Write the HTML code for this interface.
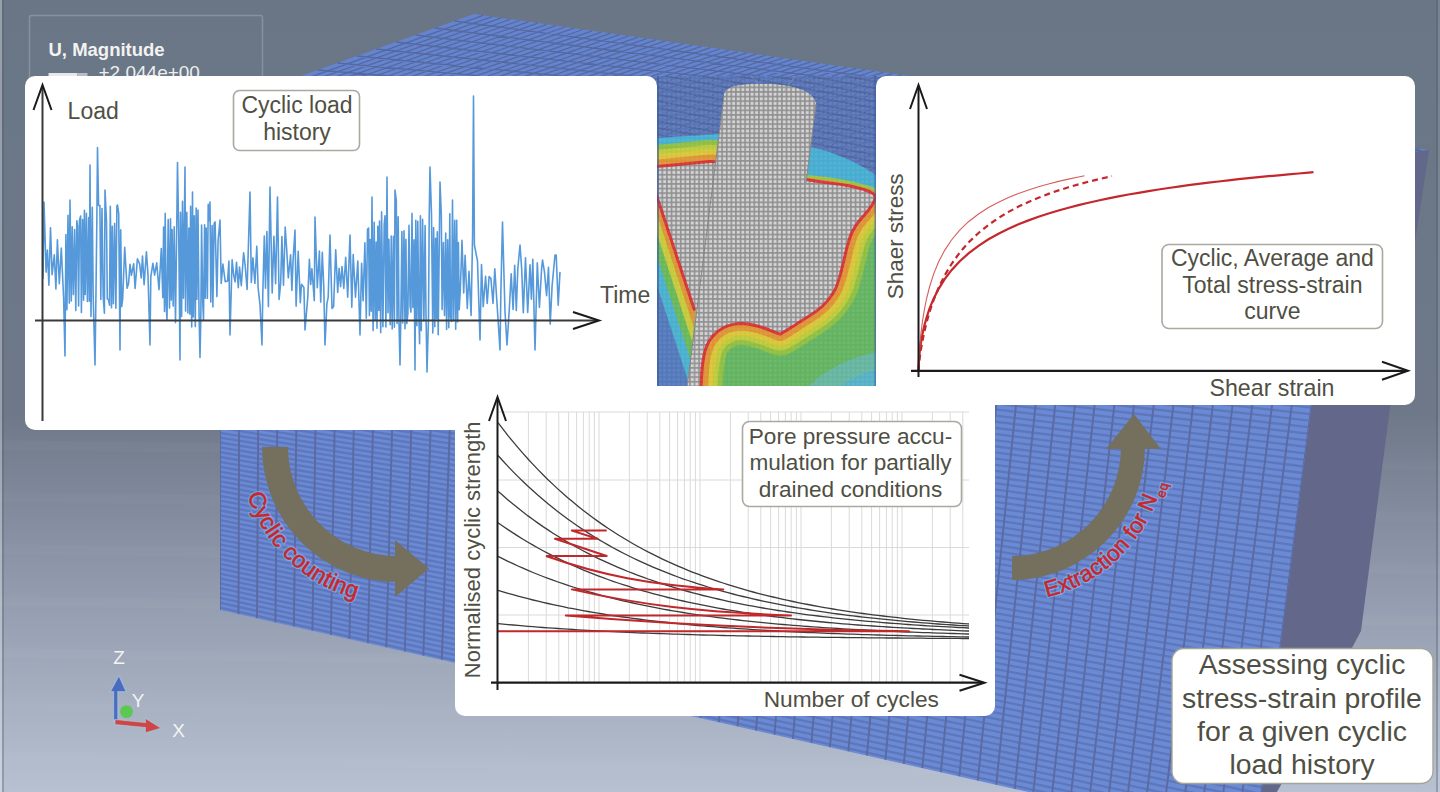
<!DOCTYPE html>
<html><head><meta charset="utf-8"><title>Cyclic stress-strain</title>
<style>html,body{margin:0;padding:0;background:#6e7889;}body{width:1440px;height:792px;overflow:hidden;}svg{display:block;}</style>
</head><body><svg width="1440" height="792" viewBox="0 0 1440 792"><defs>
<linearGradient id="bg" x1="0" y1="0" x2="0" y2="1">
 <stop offset="0" stop-color="#6a7685"/>
 <stop offset="0.12" stop-color="#6a7786"/>
 <stop offset="0.52" stop-color="#6e7889"/>
 <stop offset="0.75" stop-color="#929cae"/>
 <stop offset="1" stop-color="#b7c1d1"/>
</linearGradient>
<pattern id="front" patternUnits="userSpaceOnUse" width="20" height="6" patternTransform="skewX(-7)">
 <rect width="20" height="6" fill="#6988d0"/>
 <rect y="3.5" width="20" height="2.5" fill="#5f78b8"/>
 <rect x="0" width="2" height="6" fill="#56669a"/>
</pattern>
<pattern id="topm" patternUnits="userSpaceOnUse" width="14" height="5" patternTransform="skewX(-60) rotate(8)">
 <rect width="14" height="5" fill="#6584d0"/>
 <rect y="3.6" width="14" height="1.4" fill="#52689e"/>
 <rect width="1.4" height="5" fill="#52689e"/>
</pattern>
<pattern id="gmesh" patternUnits="userSpaceOnUse" width="4.6" height="4.6">
 <rect width="4.6" height="4.6" fill="#9d9d9f"/>
 <rect x="0.7" y="0.7" width="3" height="3" fill="#e2e2e2"/>
</pattern>
<pattern id="fem" patternUnits="userSpaceOnUse" width="4.6" height="4.6">
 <rect width="4.6" height="4.6" fill="#000" fill-opacity="0.18"/>
 <rect x="0.8" y="0.8" width="3" height="3" fill="#fff" fill-opacity="0.15"/>
</pattern>
<clipPath id="feclip"><rect x="657" y="76" width="220" height="310"/></clipPath>
<clipPath id="frontclip"><polygon points="220,105 1343,162 1255,843 220,610"/></clipPath><clipPath id="lcclip"><polygon points="640,192 657,192 695.5,310 687.5,392 640,392"/></clipPath><path id="tp1" d="M240,447 A157,157 0 0 0 397,604"/><path id="tp2" d="M1012,601 A154,154 0 0 0 1166,447"/></defs><rect width="1440" height="792" fill="url(#bg)"/><polygon points="0,440 1440,460 1440,470 0,450" fill="#ffffff" fill-opacity="0.025"/><polygon points="0,492 1440,512 1440,522 0,502" fill="#ffffff" fill-opacity="0.025"/><polygon points="0,544 1440,564 1440,574 0,554" fill="#ffffff" fill-opacity="0.025"/><polygon points="0,596 1440,616 1440,626 0,606" fill="#ffffff" fill-opacity="0.025"/><polygon points="0,648 1440,668 1440,678 0,658" fill="#ffffff" fill-opacity="0.025"/><polygon points="0,700 1440,720 1440,730 0,710" fill="#ffffff" fill-opacity="0.025"/><polygon points="0,752 1440,772 1440,782 0,762" fill="#ffffff" fill-opacity="0.025"/><rect x="0" y="0" width="2" height="792" fill="#ffffff" fill-opacity="0.3"/><rect x="2" y="0" width="2" height="792" fill="#4e5a6a" fill-opacity="0.35"/><rect x="1436" y="0" width="2" height="792" fill="#4e5a6a" fill-opacity="0.35"/><rect x="1438" y="0" width="2" height="792" fill="#ffffff" fill-opacity="0.1"/><rect x="29.5" y="15.5" width="233" height="90" rx="2" fill="none" stroke="#8791a1" stroke-width="1.5"/><text x="48.5" y="55.6" font-family="'Liberation Sans', sans-serif" font-size="18.5" font-weight="bold" fill="#f2f2f2">U, Magnitude</text><text x="98.5" y="78.6" font-family="'Liberation Sans', sans-serif" font-size="19" fill="#eeeeee">+2.044e+00</text><rect x="48.5" y="73" width="29" height="4" fill="#e8e8e8"/><rect x="77.5" y="73" width="10" height="4" fill="#b8bcc4"/><polygon points="220,105 474,14 1429,150 1343,165" fill="#6584d0"/><path d="M454.5,21L1422.4,151.2M434.9,28L1415.8,152.3M415.4,35L1409.2,153.5M395.8,42L1402.5,154.6M376.3,49L1395.9,155.8M356.8,56L1389.3,156.9M337.2,63L1382.7,158.1M317.7,70L1376.1,159.2M298.2,77L1369.5,160.4M278.6,84L1362.8,161.5M259.1,91L1356.2,162.7M239.5,98L1349.6,163.8M220,105L1343,165M483.1,15.3L230.7,105.6M492.2,16.6L241.4,106.1M501.3,17.9L252.1,106.7M510.4,19.2L262.8,107.3M519.5,20.5L273.5,107.9M528.6,21.8L284.2,108.4M537.7,23.1L294.9,109M546.8,24.4L305.6,109.6M555.9,25.7L316.3,110.1M565,27L327,110.7M574,28.2L337.6,111.3M583.1,29.5L348.3,111.9M592.2,30.8L359,112.4M601.3,32.1L369.7,113M610.4,33.4L380.4,113.6M619.5,34.7L391.1,114.1M628.6,36L401.8,114.7M637.7,37.3L412.5,115.3M646.8,38.6L423.2,115.9M655.9,39.9L433.9,116.4M665,41.2L444.6,117M674.1,42.5L455.3,117.6M683.2,43.8L466,118.1M692.3,45.1L476.7,118.7M701.4,46.4L487.4,119.3M710.5,47.7L498.1,119.9M719.6,49L508.8,120.4M728.7,50.3L519.5,121M737.8,51.6L530.2,121.6M746.9,52.9L540.9,122.1M756,54.2L551.6,122.7M765,55.4L562.2,123.3M774.1,56.7L572.9,123.9M783.2,58L583.6,124.4M792.3,59.3L594.3,125M801.4,60.6L605,125.6M810.5,61.9L615.7,126.1M819.6,63.2L626.4,126.7M828.7,64.5L637.1,127.3M837.8,65.8L647.8,127.9M846.9,67.1L658.5,128.4M856,68.4L669.2,129M865.1,69.7L679.9,129.6M874.2,71L690.6,130.1M883.3,72.3L701.3,130.7M892.4,73.6L712,131.3M901.5,74.9L722.7,131.9M910.6,76.2L733.4,132.4M919.7,77.5L744.1,133M928.8,78.8L754.8,133.6M937.9,80.1L765.5,134.1M947,81.4L776.2,134.7M956,82.6L786.8,135.3M965.1,83.9L797.5,135.9M974.2,85.2L808.2,136.4M983.3,86.5L818.9,137M992.4,87.8L829.6,137.6M1001.5,89.1L840.3,138.1M1010.6,90.4L851,138.7M1019.7,91.7L861.7,139.3M1028.8,93L872.4,139.9M1037.9,94.3L883.1,140.4M1047,95.6L893.8,141M1056.1,96.9L904.5,141.6M1065.2,98.2L915.2,142.1M1074.3,99.5L925.9,142.7M1083.4,100.8L936.6,143.3M1092.5,102.1L947.3,143.9M1101.6,103.4L958,144.4M1110.7,104.7L968.7,145M1119.8,106L979.4,145.6M1128.9,107.3L990.1,146.1M1138,108.6L1000.8,146.7M1147,109.8L1011.4,147.3M1156.1,111.1L1022.1,147.9M1165.2,112.4L1032.8,148.4M1174.3,113.7L1043.5,149M1183.4,115L1054.2,149.6M1192.5,116.3L1064.9,150.1M1201.6,117.6L1075.6,150.7M1210.7,118.9L1086.3,151.3M1219.8,120.2L1097,151.9M1228.9,121.5L1107.7,152.4M1238,122.8L1118.4,153M1247.1,124.1L1129.1,153.6M1256.2,125.4L1139.8,154.1M1265.3,126.7L1150.5,154.7M1274.4,128L1161.2,155.3M1283.5,129.3L1171.9,155.9M1292.6,130.6L1182.6,156.4M1301.7,131.9L1193.3,157M1310.8,133.2L1204,157.6M1319.9,134.5L1214.7,158.1M1329,135.8L1225.4,158.7M1338,137L1236,159.3M1347.1,138.3L1246.7,159.9M1356.2,139.6L1257.4,160.4M1365.3,140.9L1268.1,161M1374.4,142.2L1278.8,161.6M1383.5,143.5L1289.5,162.1M1392.6,144.8L1300.2,162.7M1401.7,146.1L1310.9,163.3M1410.8,147.4L1321.6,163.9M1419.9,148.7L1332.3,164.4" stroke="#55699f" stroke-width="1.3" fill="none"/><polygon points="1343,160 1429,150 1390,407 1361,631 1353,646 1281,785 1272,800 1255,800" fill="#63678a"/><polygon points="220,105 1343,162 1255,843 220,610" fill="#6b8ad4"/><g clip-path="url(#frontclip)"><path d="M220,107.4L1342.6,165.3M220,112.3L1341.7,171.8M220,117.1L1340.9,178.4M220,122L1340,184.9M220,126.9L1339.2,191.5M220,131.7L1338.3,198M220,136.6L1337.5,204.6M220,141.4L1336.7,211.1M220,146.3L1335.8,217.7M220,151.1L1335,224.2M220,156L1334.1,230.8M220,160.8L1333.3,237.3M220,165.7L1332.4,243.9M220,170.6L1331.6,250.4M220,175.4L1330.7,256.9M220,180.3L1329.9,263.5M220,185.1L1329,270M220,190L1328.2,276.6M220,194.8L1327.3,283.1M220,199.7L1326.5,289.7M220,204.5L1325.7,296.2M220,209.4L1324.8,302.8M220,214.3L1324,309.3M220,219.1L1323.1,315.9M220,224L1322.3,322.4M220,228.8L1321.4,329M220,233.7L1320.6,335.5M220,238.5L1319.7,342.1M220,243.4L1318.9,348.6M220,248.2L1318,355.2M220,253.1L1317.2,361.7M220,258L1316.3,368.3M220,262.8L1315.5,374.8M220,267.7L1314.7,381.4M220,272.5L1313.8,387.9M220,277.4L1313,394.5M220,282.2L1312.1,401M220,287.1L1311.3,407.6M220,291.9L1310.4,414.1M220,296.8L1309.6,420.6M220,301.7L1308.7,427.2M220,306.5L1307.9,433.7M220,311.4L1307,440.3M220,316.2L1306.2,446.8M220,321.1L1305.3,453.4M220,325.9L1304.5,459.9M220,330.8L1303.7,466.5M220,335.6L1302.8,473M220,340.5L1302,479.6M220,345.4L1301.1,486.1M220,350.2L1300.3,492.7M220,355.1L1299.4,499.2M220,359.9L1298.6,505.8M220,364.8L1297.7,512.3M220,369.6L1296.9,518.9M220,374.5L1296,525.4M220,379.4L1295.2,532M220,384.2L1294.3,538.5M220,389.1L1293.5,545.1M220,393.9L1292.7,551.6M220,398.8L1291.8,558.2M220,403.6L1291,564.7M220,408.5L1290.1,571.3M220,413.3L1289.3,577.8M220,418.2L1288.4,584.4M220,423.1L1287.6,590.9M220,427.9L1286.7,597.4M220,432.8L1285.9,604M220,437.6L1285,610.5M220,442.5L1284.2,617.1M220,447.3L1283.3,623.6M220,452.2L1282.5,630.2M220,457L1281.7,636.7M220,461.9L1280.8,643.3M220,466.8L1280,649.8M220,471.6L1279.1,656.4M220,476.5L1278.3,662.9M220,481.3L1277.4,669.5M220,486.2L1276.6,676M220,491L1275.7,682.6M220,495.9L1274.9,689.1M220,500.7L1274,695.7M220,505.6L1273.2,702.2M220,510.5L1272.3,708.8M220,515.3L1271.5,715.3M220,520.2L1270.7,721.9M220,525L1269.8,728.4M220,529.9L1269,735M220,534.7L1268.1,741.5M220,539.6L1267.3,748.1M220,544.4L1266.4,754.6M220,549.3L1265.6,761.1M220,554.2L1264.7,767.7M220,559L1263.9,774.2M220,563.9L1263,780.8M220,568.7L1262.2,787.3M220,573.6L1261.3,793.9M220,578.4L1260.5,800.4M220,583.3L1259.7,807M220,588.1L1258.8,813.5M220,593L1258,820.1M220,597.9L1257.1,826.6M220,602.7L1256.3,833.2M220,607.6L1255.4,839.7M220,612.4L1254.6,846.3" stroke="#5e77bc" stroke-width="2.3" fill="none"/><path d="M220,105L220,610M240.1,106L238.5,614.2M260.1,107L257,618.3M280.2,108.1L275.4,622.5M300.2,109.1L293.9,626.6M320.3,110.1L312.4,630.8M340.3,111.1L330.9,635M360.4,112.1L349.4,639.1M380.4,113.1L367.9,643.3M400.5,114.2L386.3,647.4M420.5,115.2L404.8,651.6M440.6,116.2L423.3,655.8M460.6,117.2L441.8,659.9M480.7,118.2L460.3,664.1M500.8,119.2L478.8,668.2M520.8,120.3L497.2,672.4M540.9,121.3L515.7,676.6M560.9,122.3L534.2,680.7M581,123.3L552.7,684.9M601,124.3L571.2,689.1M621.1,125.4L589.6,693.2M641.1,126.4L608.1,697.4M661.2,127.4L626.6,701.5M681.2,128.4L645.1,705.7M701.3,129.4L663.6,709.9M721.3,130.4L682.1,714M741.4,131.5L700.5,718.2M761.4,132.5L719,722.3M781.5,133.5L737.5,726.5M801.6,134.5L756,730.7M821.6,135.5L774.5,734.8M841.7,136.6L792.9,739M861.7,137.6L811.4,743.1M881.8,138.6L829.9,747.3M901.8,139.6L848.4,751.5M921.9,140.6L866.9,755.6M941.9,141.6L885.4,759.8M962,142.7L903.8,763.9M982,143.7L922.3,768.1M1002.1,144.7L940.8,772.3M1022.1,145.7L959.3,776.4M1042.2,146.7L977.8,780.6M1062.2,147.8L996.2,784.8M1082.3,148.8L1014.7,788.9M1102.4,149.8L1033.2,793.1M1122.4,150.8L1051.7,797.2M1142.5,151.8L1070.2,801.4M1162.5,152.8L1088.7,805.6M1182.6,153.9L1107.1,809.7M1202.6,154.9L1125.6,813.9M1222.7,155.9L1144.1,818M1242.7,156.9L1162.6,822.2M1262.8,157.9L1181.1,826.4M1282.8,158.9L1199.6,830.5M1302.9,160L1218,834.7M1322.9,161L1236.5,838.8M1343,162L1255,843" stroke="#5b6aa2" stroke-width="1.9" fill="none"/></g><g clip-path="url(#feclip)"><rect x="657" y="70" width="220" height="320" fill="#5a79c2"/><rect x="657" y="70" width="220" height="320" fill="url(#topm)" opacity="0.6"/><path d="M657,138 L720,134 L790,140 L877,150 L877,390 L657,390 Z" fill="#4cc0e4"/><path d="M800,150 C830,150 860,160 877,170 L877,200 L800,185 Z" fill="#52bde6" opacity="0.9"/><path d="M657,146 L720,142 L790,160 L877,182 L877,390 L657,390 Z" fill="#6cc46a"/><path d="M805,390 C825,368 855,356 877,352 L877,390 Z" fill="#6ec6b0"/><path d="M835,390 C850,378 865,372 877,370 L877,390 Z" fill="#5cc0d8"/><path d="M696,310 L657,192 L657,168 L710,163 L760,166 L806,181 C820,184 840,185 852,188 C864,191 872,193 874,197 C873,203 866,211 858,220 C852,228 849,234 847,242 C844,252 843,258 841,266 C838,278 836,286 832,292 C826,302 818,309 808,315 C798,321 790,327 780,332.5 C772,330 760,323 742,322 C728,322 716,328 708,340 C701,352 700,370 699.5,392" fill="none" stroke="#9cd048" stroke-width="46" stroke-linejoin="round"/><path d="M696,310 L657,192 L657,168 L710,163 L760,166 L806,181 C820,184 840,185 852,188 C864,191 872,193 874,197 C873,203 866,211 858,220 C852,228 849,234 847,242 C844,252 843,258 841,266 C838,278 836,286 832,292 C826,302 818,309 808,315 C798,321 790,327 780,332.5 C772,330 760,323 742,322 C728,322 716,328 708,340 C701,352 700,370 699.5,392" fill="none" stroke="#cfdc40" stroke-width="36" stroke-linejoin="round"/><path d="M696,310 L657,192 L657,168 L710,163 L760,166 L806,181 C820,184 840,185 852,188 C864,191 872,193 874,197 C873,203 866,211 858,220 C852,228 849,234 847,242 C844,252 843,258 841,266 C838,278 836,286 832,292 C826,302 818,309 808,315 C798,321 790,327 780,332.5 C772,330 760,323 742,322 C728,322 716,328 708,340 C701,352 700,370 699.5,392" fill="none" stroke="#ecd83c" stroke-width="27" stroke-linejoin="round"/><path d="M696,310 L657,192 L657,168 L710,163 L760,166 L806,181 C820,184 840,185 852,188 C864,191 872,193 874,197 C873,203 866,211 858,220 C852,228 849,234 847,242 C844,252 843,258 841,266 C838,278 836,286 832,292 C826,302 818,309 808,315 C798,321 790,327 780,332.5 C772,330 760,323 742,322 C728,322 716,328 708,340 C701,352 700,370 699.5,392" fill="none" stroke="#f2a03a" stroke-width="17" stroke-linejoin="round"/><path d="M806,146 C830,150 860,163 877,176 L877,192 C866,187 850,183 830,180 L806,177 Z" fill="#4cbde4"/><path d="M806,100 L877,100 L877,176 C860,163 830,150 806,146 Z" fill="#5a79c2"/><path d="M806,100 L877,100 L877,176 C860,163 830,150 806,146 Z" fill="url(#topm)" opacity="0.6"/><path d="M804,176 L830,179 C850,182 866,186 877,190" fill="none" stroke="#a8d448" stroke-width="3"/><g clip-path="url(#lcclip)"><rect x="640" y="190" width="60" height="210" fill="#5a84cc"/><line x1="638.4" y1="135" x2="732.7" y2="424.1" stroke="#4fc0e0" stroke-width="58"/><line x1="638.4" y1="135" x2="732.7" y2="424.1" stroke="#72c860" stroke-width="40"/><line x1="638.4" y1="135" x2="732.7" y2="424.1" stroke="#d8dc40" stroke-width="26"/><line x1="638.4" y1="135" x2="732.7" y2="424.1" stroke="#f0a03a" stroke-width="14"/></g><path d="M696,310 L657,192 L657,168 L710,163 L760,166 L806,181 C820,184 840,185 852,188 C864,191 872,193 874,197 C873,203 866,211 858,220 C852,228 849,234 847,242 C844,252 843,258 841,266 C838,278 836,286 832,292 C826,302 818,309 808,315 C798,321 790,327 780,332.5 C772,330 760,323 742,322 C728,322 716,328 708,340 C701,352 700,370 699.5,392 L690,392 Z" fill="#c9c9c9"/><path d="M696,310 L657,192 L657,168 L710,163 L760,166 L806,181 C820,184 840,185 852,188 C864,191 872,193 874,197 C873,203 866,211 858,220 C852,228 849,234 847,242 C844,252 843,258 841,266 C838,278 836,286 832,292 C826,302 818,309 808,315 C798,321 790,327 780,332.5 C772,330 760,323 742,322 C728,322 716,328 708,340 C701,352 700,370 699.5,392" fill="none" stroke="#e8383a" stroke-width="6" stroke-linejoin="round"/><path d="M696,310 L657,192 L657,168 L710,163 L760,166 L806,181 C820,184 840,185 852,188 C864,191 872,193 874,197 C873,203 866,211 858,220 C852,228 849,234 847,242 C844,252 843,258 841,266 C838,278 836,286 832,292 C826,302 818,309 808,315 C798,321 790,327 780,332.5 C772,330 760,323 742,322 C728,322 716,328 708,340 C701,352 700,370 699.5,392 L690,392 Z" fill="url(#gmesh)"/><path d="M724,96 C724,88 735,84 760,84 C790,84 814,90 816,104 L806,183 L760,250 L720,300 L696,318 L694,392 L686.5,392 Z" fill="#c9c9c9"/><path d="M724,96 C724,88 735,84 760,84 C790,84 814,90 816,104 L806,183 L760,250 L720,300 L696,318 L694,392 L686.5,392 Z" fill="url(#gmesh)"/><path d="M724,96 L686.5,392" stroke="#8e8e8e" stroke-width="1" fill="none"/><path d="M816,104 L806,183" stroke="#8e8e8e" stroke-width="1" fill="none"/><path d="M745,70 L770,96 M800,70 L780,96" stroke="#9aa4b8" stroke-width="1" fill="none" opacity="0.7"/><rect x="657" y="70" width="220" height="320" fill="url(#fem)" opacity="0.5"/><rect x="657" y="70" width="2" height="320" fill="#3e5a9a" opacity="0.6"/><rect x="874.5" y="70" width="2" height="320" fill="#3e5a9a" opacity="0.6"/></g><rect x="25" y="76" width="632" height="354" rx="10" fill="#ffffff"/><rect x="876" y="76" width="539" height="329" rx="10" fill="#ffffff"/><rect x="455" y="386" width="540" height="330" rx="10" fill="#ffffff"/><rect x="455" y="380" width="40" height="50" fill="#ffffff"/><polyline points="43,278.7 44,202 46.1,272.1 47.4,250 48.9,285.3 50.5,227.7 52.1,274.6 54.3,254.8 55.9,288.9 57.4,239.7 59.3,283.7 61.3,248.1 63.6,297.2 65,356 65.9,234.6 66.9,309.7 68,215.3 69.3,303.1 70,200 71.3,301 72.2,226.8 73.4,294.6 74.6,229.5 75.8,310.6 76.8,220.7 77.6,226.2 78.6,305.9 79.5,220.3 80.6,216.1 81.4,312.6 82.6,219.5 83.6,300.3 84.4,210.2 85.2,294.4 86.4,213.4 87.4,301.4 88.7,217.6 89.4,301.2 90,165 91,316.4 92.3,207.2 93.2,297.2 95,365 95.7,313.7 96.8,225.3 97.5,147.5 98.6,205.4 99.9,205.6 100.8,299.4 102,208.6 103.2,296.8 104.4,313.3 105,190 106.5,221.1 107.3,298.8 108.5,299.6 109.5,305.2 110.3,206.3 111.5,307.7 112.3,226.4 113.4,303.7 114.6,223.5 115.9,308.2 116.9,206.1 117.5,205 118.7,213.3 120,350 120.7,229.9 121.7,306.6 122.7,299 124.7,247.3 127.1,288.2 128.6,283.3 130,264.2 131.4,275.4 133.7,263.7 135.1,288.5 137.4,258.9 139.6,263.8 141.2,278 142.5,256 144.1,284.8 146.4,251.7 148,274.9 150,345 150.8,276.8 152.9,263.4 154.6,275.1 156.7,262.8 159,289.6 161.3,248.5 162.8,297.6 163.6,227.1 164.5,311.4 165.2,213.4 166.2,304.3 167,320.1 168.2,219.5 169.5,308.1 170.5,218.8 171.3,300.1 172.1,229.6 173.2,306.1 174.2,226.7 175.5,322.6 176.8,221.3 177.5,162.5 178.7,232.1 180,360 180.5,212.4 181.6,316.4 182.5,201.3 183.5,298.3 185,167 185.6,311.1 186.8,212.3 187.9,312.9 188.9,228 189.9,314.2 190.6,206.3 191.7,326.9 192.5,192 193.3,317 194.3,215.7 195.3,326.6 196.2,208.1 196.9,299.2 198,210.1 199,310.8 200,357.5 200.8,319.4 201.6,225.1 202.7,302.3 203.5,319.7 204.6,224.7 205.3,298.3 206.2,228.1 207.4,298.5 208.2,204.4 209,220.6 210,202 210.8,302.1 212.1,225.5 212.9,307 214.1,223.7 215.1,221.9 216.9,296.6 218.1,240.7 220,220 221.2,283.5 222.9,264 225.2,281.6 227.6,281 228.9,261.1 230,335 232.1,259.9 233.7,275.1 235.1,281.9 236.5,262.4 238.3,287.7 239.5,267.1 241.3,285.7 243.6,252.7 245.1,265 247.1,289.5 250,192 251.3,282.4 252.9,257.9 254.9,283.5 256.8,246.2 258.1,287.5 260,304.8 262,345 262.8,293.5 264.3,236 265.5,288.3 266.9,231.6 268.4,306.6 270,187 272.2,292.9 273.9,236.2 275.6,283.8 277.5,197 279.1,299.5 280.7,282.7 281.9,236.5 283.5,285.3 285.2,227.1 286.6,248 288.3,278 290.6,254.8 291.9,290.4 293.1,259.9 295,230 296.1,306.1 298.2,251.2 300.3,302.7 301.5,284.3 303.9,287.5 305,330 307.8,297.1 309.4,259.2 310.7,284.4 311.9,268.8 314.3,300.6 315,217 317.3,287.6 319.4,251 320.7,302.1 322.3,252.2 323.8,287.9 325,345 326.9,303.8 328.2,297.2 330,235 332,308.5 333.6,306.5 335.7,249.7 337.7,292.4 339.1,268.2 340.6,286.8 342,266.5 343.8,288.4 345.7,257.4 347.7,297.3 350,235 351.8,307.2 353.2,254.5 355.5,297.3 357.8,261.1 360,335 361.6,263.2 363.1,300.7 364.9,242.8 366.3,318.3 367.5,229.2 368.6,228 369.4,315.6 370.2,239.6 371.2,311.2 372,197 373.1,330.6 374.2,222.3 375.2,320.3 376.2,242 377,328.3 377.8,226.2 378.8,310.4 379.5,221 380.7,332.7 381.6,211.9 382.9,326.8 384.2,224.5 385,215.8 385.9,327 387,177 388,312.7 388.9,239.4 390.2,324.7 391.3,236.1 392.2,329 393.5,236.3 394.4,327.2 395,190 396.3,200.5 397.1,323.4 398.2,216.8 399,322.8 400,365 401,305.6 401.9,231.5 402.7,322.9 404,230.7 405,328.8 405.9,239.3 406.8,323.6 407.9,313.3 409,225.4 410.1,306.2 410.9,312.1 412,213.4 412.9,307.6 414,239.9 415,370 415.8,220.3 416.9,325.7 417.8,221.3 418.8,314.8 419.6,343.7 420.4,215.9 421.3,330.6 422.6,219.4 423.9,321 425.1,225.6 426,314.2 427,372 428.5,318.3 429.2,218.2 430,167 431.5,214.8 432.8,333 433.6,227.5 434.8,326.7 435.6,238.3 436.5,318.6 437.3,231.9 438.2,334.8 439.3,241.3 440,182 441.3,214.4 442.1,309.6 443.4,242.6 444.5,315.5 445.7,233.1 446.6,329.4 447.7,239.7 448.8,327.8 449.8,213.8 450.5,316.5 451.5,321.4 452.5,200 453.5,320.6 454.7,220.2 455.7,329.2 456.7,220.3 457.6,322 458.4,242.6 459.2,309.8 460.3,289.9 462,240.4 463.7,293 465.1,255.3 467.3,308.5 469,271.2 471.1,315.5 472.6,235 473.5,96 474.4,245 477.5,261 480,340 481.5,264.6 483.2,306.8 485.6,276.3 487.2,303.5 489.1,276.6 490.9,278.3 493,303.4 494.8,268.9 496.8,300.5 500,350 500.9,290.8 502.5,222 505,311.6 507,345 509.3,309.1 511.2,273.9 513.1,309.5 514.7,265.4 516.3,310.4 517.8,268.9 520,245 521.7,269.3 523.3,312.8 525.5,257.9 527.7,312.4 530,264.7 531.4,299.3 532.8,259.2 535,350 537.3,262.7 539.4,307.4 541.6,269.2 542.5,260 544.4,271.3 546.6,295.8 548.5,267.4 550.2,324.1 552.1,285.9 555,255 556.2,255.1 558.2,305.3 560,271.9" fill="none" stroke="#5599db" stroke-width="1.6" stroke-linejoin="round"/><line x1="42.5" y1="86" x2="42.5" y2="421" stroke="#3a3a3a" stroke-width="2"/><polyline points="33.5,110 42.5,85 51.5,110" fill="none" stroke="#1a1a1a" stroke-width="2"/><line x1="35" y1="320.5" x2="598" y2="320.5" stroke="#3a3a3a" stroke-width="2.2"/><polyline points="573,312 599,320.5 573,329" fill="none" stroke="#1a1a1a" stroke-width="2"/><text x="67.6" y="119" font-family="'Liberation Sans', sans-serif" font-size="23" fill="#4f4f44">Load</text><text x="600" y="303.4" font-family="'Liberation Sans', sans-serif" font-size="23" fill="#4f4f44">Time</text><rect x="233.5" y="90.5" width="126" height="60" rx="6" fill="#fff" stroke="#a9a99f" stroke-width="1.6"/><text font-family="'Liberation Sans', sans-serif" font-size="23" fill="#4f4f44" text-anchor="middle"><tspan x="297" y="112.7">Cyclic load</tspan><tspan x="297" y="139.5">history</tspan></text><line x1="528.4" y1="412" x2="528.4" y2="682" stroke="#dadada" stroke-width="1"/><line x1="546.2" y1="412" x2="546.2" y2="682" stroke="#dadada" stroke-width="1"/><line x1="558.8" y1="412" x2="558.8" y2="682" stroke="#dadada" stroke-width="1"/><line x1="568.6" y1="412" x2="568.6" y2="682" stroke="#dadada" stroke-width="1"/><line x1="576.6" y1="412" x2="576.6" y2="682" stroke="#dadada" stroke-width="1"/><line x1="583.4" y1="412" x2="583.4" y2="682" stroke="#dadada" stroke-width="1"/><line x1="589.2" y1="412" x2="589.2" y2="682" stroke="#dadada" stroke-width="1"/><line x1="594.4" y1="412" x2="594.4" y2="682" stroke="#dadada" stroke-width="1"/><line x1="599" y1="412" x2="599" y2="682" stroke="#dadada" stroke-width="1"/><line x1="629.4" y1="412" x2="629.4" y2="682" stroke="#dadada" stroke-width="1"/><line x1="647.2" y1="412" x2="647.2" y2="682" stroke="#dadada" stroke-width="1"/><line x1="659.8" y1="412" x2="659.8" y2="682" stroke="#dadada" stroke-width="1"/><line x1="669.6" y1="412" x2="669.6" y2="682" stroke="#dadada" stroke-width="1"/><line x1="677.6" y1="412" x2="677.6" y2="682" stroke="#dadada" stroke-width="1"/><line x1="684.4" y1="412" x2="684.4" y2="682" stroke="#dadada" stroke-width="1"/><line x1="690.2" y1="412" x2="690.2" y2="682" stroke="#dadada" stroke-width="1"/><line x1="695.4" y1="412" x2="695.4" y2="682" stroke="#dadada" stroke-width="1"/><line x1="700" y1="412" x2="700" y2="682" stroke="#dadada" stroke-width="1"/><line x1="730.4" y1="412" x2="730.4" y2="682" stroke="#dadada" stroke-width="1"/><line x1="748.2" y1="412" x2="748.2" y2="682" stroke="#dadada" stroke-width="1"/><line x1="760.8" y1="412" x2="760.8" y2="682" stroke="#dadada" stroke-width="1"/><line x1="770.6" y1="412" x2="770.6" y2="682" stroke="#dadada" stroke-width="1"/><line x1="778.6" y1="412" x2="778.6" y2="682" stroke="#dadada" stroke-width="1"/><line x1="785.4" y1="412" x2="785.4" y2="682" stroke="#dadada" stroke-width="1"/><line x1="791.2" y1="412" x2="791.2" y2="682" stroke="#dadada" stroke-width="1"/><line x1="796.4" y1="412" x2="796.4" y2="682" stroke="#dadada" stroke-width="1"/><line x1="801" y1="412" x2="801" y2="682" stroke="#dadada" stroke-width="1"/><line x1="831.4" y1="412" x2="831.4" y2="682" stroke="#dadada" stroke-width="1"/><line x1="849.2" y1="412" x2="849.2" y2="682" stroke="#dadada" stroke-width="1"/><line x1="861.8" y1="412" x2="861.8" y2="682" stroke="#dadada" stroke-width="1"/><line x1="871.6" y1="412" x2="871.6" y2="682" stroke="#dadada" stroke-width="1"/><line x1="879.6" y1="412" x2="879.6" y2="682" stroke="#dadada" stroke-width="1"/><line x1="886.4" y1="412" x2="886.4" y2="682" stroke="#dadada" stroke-width="1"/><line x1="892.2" y1="412" x2="892.2" y2="682" stroke="#dadada" stroke-width="1"/><line x1="897.4" y1="412" x2="897.4" y2="682" stroke="#dadada" stroke-width="1"/><line x1="902" y1="412" x2="902" y2="682" stroke="#dadada" stroke-width="1"/><line x1="932.4" y1="412" x2="932.4" y2="682" stroke="#dadada" stroke-width="1"/><line x1="950.2" y1="412" x2="950.2" y2="682" stroke="#dadada" stroke-width="1"/><line x1="962.8" y1="412" x2="962.8" y2="682" stroke="#dadada" stroke-width="1"/><line x1="498" y1="412" x2="969" y2="412" stroke="#dadada" stroke-width="1"/><line x1="498" y1="480" x2="969" y2="480" stroke="#dadada" stroke-width="1"/><line x1="498" y1="547.5" x2="969" y2="547.5" stroke="#dadada" stroke-width="1"/><line x1="498" y1="615" x2="969" y2="615" stroke="#dadada" stroke-width="1"/><polyline points="498,422.7 503,429.2 508,435.6 513,441.7 518,447.6 523,453.4 528,459 533,464.4 538,469.6 543,474.7 548,479.7 553,484.4 558,489.1 563,493.6 568,497.9 573,502.1 578,506.2 583,510.2 588,514 593,517.8 598,521.4 603,524.9 608,528.3 613,531.5 618,534.7 623,537.8 628,540.8 633,543.7 638,546.5 643,549.2 648,551.9 653,554.4 658,556.9 663,559.3 668,561.7 673,563.9 678,566.1 683,568.2 688,570.3 693,572.3 698,574.2 703,576.1 708,577.9 713,579.7 718,581.4 723,583 728,584.6 733,586.2 738,587.7 743,589.2 748,590.6 753,592 758,593.3 763,594.6 768,595.8 773,597 778,598.2 783,599.3 788,600.4 793,601.5 798,602.6 803,603.6 808,604.5 813,605.5 818,606.4 823,607.3 828,608.1 833,609 838,609.8 843,610.6 848,611.3 853,612.1 858,612.8 863,613.5 868,614.1 873,614.8 878,615.4 883,616 888,616.6 893,617.2 898,617.7 903,618.3 908,618.8 913,619.3 918,619.8 923,620.3 928,620.7 933,621.2 938,621.6 943,622 948,622.4 953,622.8 958,623.2 963,623.6 968,623.9 969,624" fill="none" stroke="#3c3c3c" stroke-width="1.3"/><polyline points="498,455.5 503,461 508,466.4 513,471.6 518,476.6 523,481.5 528,486.2 533,490.8 538,495.3 543,499.6 548,503.8 553,507.8 558,511.7 563,515.5 568,519.2 573,522.8 578,526.2 583,529.6 588,532.9 593,536 598,539.1 603,542 608,544.9 613,547.7 618,550.4 623,553 628,555.5 633,558 638,560.4 643,562.7 648,564.9 653,567.1 658,569.2 663,571.2 668,573.2 673,575.1 678,577 683,578.8 688,580.5 693,582.2 698,583.8 703,585.4 708,587 713,588.5 718,589.9 723,591.3 728,592.7 733,594 738,595.3 743,596.5 748,597.7 753,598.9 758,600 763,601.1 768,602.1 773,603.2 778,604.2 783,605.1 788,606.1 793,607 798,607.8 803,608.7 808,609.5 813,610.3 818,611.1 823,611.8 828,612.6 833,613.3 838,614 843,614.6 848,615.3 853,615.9 858,616.5 863,617.1 868,617.6 873,618.2 878,618.7 883,619.2 888,619.7 893,620.2 898,620.7 903,621.1 908,621.6 913,622 918,622.4 923,622.8 928,623.2 933,623.6 938,624 943,624.3 948,624.7 953,625 958,625.3 963,625.6 968,625.9 969,626" fill="none" stroke="#3c3c3c" stroke-width="1.3"/><polyline points="498,491.2 503,495.6 508,499.9 513,504.1 518,508.1 523,512.1 528,515.9 533,519.5 538,523.1 543,526.6 548,529.9 553,533.2 558,536.3 563,539.4 568,542.3 573,545.2 578,548 583,550.7 588,553.3 593,555.8 598,558.3 603,560.6 608,562.9 613,565.2 618,567.3 623,569.4 628,571.5 633,573.4 638,575.3 643,577.2 648,579 653,580.7 658,582.4 663,584.1 668,585.6 673,587.2 678,588.7 683,590.1 688,591.5 693,592.9 698,594.2 703,595.5 708,596.7 713,597.9 718,599 723,600.2 728,601.3 733,602.3 738,603.3 743,604.3 748,605.3 753,606.2 758,607.1 763,608 768,608.9 773,609.7 778,610.5 783,611.2 788,612 793,612.7 798,613.4 803,614.1 808,614.8 813,615.4 818,616 823,616.6 828,617.2 833,617.8 838,618.3 843,618.9 848,619.4 853,619.9 858,620.4 863,620.8 868,621.3 873,621.7 878,622.2 883,622.6 888,623 893,623.4 898,623.7 903,624.1 908,624.5 913,624.8 918,625.1 923,625.5 928,625.8 933,626.1 938,626.4 943,626.7 948,626.9 953,627.2 958,627.5 963,627.7 968,628 969,628" fill="none" stroke="#3c3c3c" stroke-width="1.3"/><polyline points="498,522.7 503,526.2 508,529.6 513,532.9 518,536.1 523,539.2 528,542.2 533,545.1 538,548 543,550.7 548,553.3 553,555.9 558,558.4 563,560.8 568,563.2 573,565.4 578,567.6 583,569.8 588,571.8 593,573.8 598,575.8 603,577.7 608,579.5 613,581.3 618,583 623,584.6 628,586.2 633,587.8 638,589.3 643,590.8 648,592.2 653,593.6 658,594.9 663,596.2 668,597.5 673,598.7 678,599.9 683,601 688,602.1 693,603.2 698,604.2 703,605.2 708,606.2 713,607.2 718,608.1 723,609 728,609.8 733,610.7 738,611.5 743,612.3 748,613 753,613.8 758,614.5 763,615.2 768,615.8 773,616.5 778,617.1 783,617.7 788,618.3 793,618.9 798,619.5 803,620 808,620.5 813,621 818,621.5 823,622 828,622.5 833,622.9 838,623.3 843,623.8 848,624.2 853,624.6 858,625 863,625.3 868,625.7 873,626 878,626.4 883,626.7 888,627 893,627.3 898,627.6 903,627.9 908,628.2 913,628.5 918,628.7 923,629 928,629.2 933,629.5 938,629.7 943,629.9 948,630.2 953,630.4 958,630.6 963,630.8 968,631 969,631" fill="none" stroke="#3c3c3c" stroke-width="1.3"/><polyline points="498,556.4 503,558.9 508,561.4 513,563.7 518,566 523,568.2 528,570.4 533,572.5 538,574.5 543,576.5 548,578.4 553,580.2 558,582 563,583.7 568,585.4 573,587 578,588.6 583,590.1 588,591.6 593,593 598,594.4 603,595.8 608,597.1 613,598.4 618,599.6 623,600.8 628,601.9 633,603 638,604.1 643,605.2 648,606.2 653,607.2 658,608.1 663,609.1 668,610 673,610.8 678,611.7 683,612.5 688,613.3 693,614.1 698,614.8 703,615.5 708,616.2 713,616.9 718,617.6 723,618.2 728,618.8 733,619.4 738,620 743,620.6 748,621.1 753,621.6 758,622.2 763,622.7 768,623.1 773,623.6 778,624.1 783,624.5 788,624.9 793,625.3 798,625.7 803,626.1 808,626.5 813,626.9 818,627.2 823,627.6 828,627.9 833,628.2 838,628.5 843,628.8 848,629.1 853,629.4 858,629.7 863,629.9 868,630.2 873,630.4 878,630.7 883,630.9 888,631.1 893,631.4 898,631.6 903,631.8 908,632 913,632.2 918,632.4 923,632.6 928,632.7 933,632.9 938,633.1 943,633.2 948,633.4 953,633.5 958,633.7 963,633.8 968,634 969,634" fill="none" stroke="#3c3c3c" stroke-width="1.3"/><polyline points="498,590.3 503,591.8 508,593.3 513,594.7 518,596.1 523,597.4 528,598.7 533,600 538,601.2 543,602.4 548,603.5 553,604.6 558,605.7 563,606.7 568,607.8 573,608.7 578,609.7 583,610.6 588,611.5 593,612.4 598,613.2 603,614 608,614.8 613,615.6 618,616.3 623,617 628,617.7 633,618.4 638,619 643,619.7 648,620.3 653,620.9 658,621.4 663,622 668,622.5 673,623.1 678,623.6 683,624.1 688,624.5 693,625 698,625.5 703,625.9 708,626.3 713,626.7 718,627.1 723,627.5 728,627.9 733,628.2 738,628.6 743,628.9 748,629.2 753,629.6 758,629.9 763,630.2 768,630.5 773,630.7 778,631 783,631.3 788,631.5 793,631.8 798,632 803,632.3 808,632.5 813,632.7 818,632.9 823,633.1 828,633.3 833,633.5 838,633.7 843,633.9 848,634.1 853,634.2 858,634.4 863,634.6 868,634.7 873,634.9 878,635 883,635.1 888,635.3 893,635.4 898,635.5 903,635.7 908,635.8 913,635.9 918,636 923,636.1 928,636.2 933,636.3 938,636.4 943,636.5 948,636.6 953,636.7 958,636.8 963,636.9 968,637 969,637" fill="none" stroke="#3c3c3c" stroke-width="1.3"/><polyline points="498,623.6 503,624.1 508,624.6 513,625 518,625.4 523,625.9 528,626.3 533,626.7 538,627.1 543,627.5 548,627.8 553,628.2 558,628.5 563,628.8 568,629.2 573,629.5 578,629.8 583,630.1 588,630.4 593,630.6 598,630.9 603,631.2 608,631.4 613,631.7 618,631.9 623,632.1 628,632.3 633,632.6 638,632.8 643,633 648,633.2 653,633.4 658,633.5 663,633.7 668,633.9 673,634.1 678,634.2 683,634.4 688,634.5 693,634.7 698,634.8 703,635 708,635.1 713,635.2 718,635.3 723,635.5 728,635.6 733,635.7 738,635.8 743,635.9 748,636 753,636.1 758,636.2 763,636.3 768,636.4 773,636.5 778,636.6 783,636.7 788,636.8 793,636.8 798,636.9 803,637 808,637.1 813,637.1 818,637.2 823,637.3 828,637.3 833,637.4 838,637.4 843,637.5 848,637.6 853,637.6 858,637.7 863,637.7 868,637.8 873,637.8 878,637.9 883,637.9 888,638 893,638 898,638 903,638.1 908,638.1 913,638.2 918,638.2 923,638.2 928,638.3 933,638.3 938,638.3 943,638.4 948,638.4 953,638.4 958,638.4 963,638.5 968,638.5 969,638.5" fill="none" stroke="#3c3c3c" stroke-width="1.3"/><polyline points="606.7,530.6 571.8,530.6 597.6,538.8 555,538.8 606.7,556 546,556" fill="none" stroke="#c0282c" stroke-width="2" stroke-linejoin="round"/><path d="M546,556 C600,575 650,585 723.3,589.4 L571.8,589.4 C640,605 700,612 791,615.5 L565.8,615.5 C680,625 800,630 909,631.2 L498,631.2" fill="none" stroke="#c0282c" stroke-width="2" stroke-linejoin="round"/><line x1="497.5" y1="398" x2="497.5" y2="690" stroke="#1a1a1a" stroke-width="2"/><polyline points="489,421 497.5,397 506,421" fill="none" stroke="#1a1a1a" stroke-width="2"/><line x1="491" y1="682.7" x2="983" y2="682.7" stroke="#1a1a1a" stroke-width="2.2"/><polyline points="959.5,674.7 984.5,682.7 959.5,690.7" fill="none" stroke="#1a1a1a" stroke-width="2"/><rect x="742.5" y="421.5" width="219" height="85" rx="7" fill="#fff" stroke="#a9a99f" stroke-width="1.6"/><text font-family="'Liberation Sans', sans-serif" font-size="22.6" fill="#4f4f44" text-anchor="middle"><tspan x="850.5" y="443.5">Pore pressure accu-</tspan><tspan x="850.5" y="470">mulation for partially</tspan><tspan x="850.5" y="496.8">drained conditions</tspan></text><text font-family="'Liberation Sans', sans-serif" font-size="22" fill="#4f4f44" text-anchor="middle" transform="translate(480,549.8) rotate(-90)">Normalised cyclic strength</text><text x="851.3" y="707" font-family="'Liberation Sans', sans-serif" font-size="22.7" fill="#4f4f44" text-anchor="middle">Number of cycles</text><polyline points="918.5,370.5 918.8,362.4 919.3,355.9 920,349.3 921,342.2 922.5,333.8 924.5,324.9 926.5,317.7 929.5,308.7 933.5,298.9 938.5,289.1 944.5,279.4 951.5,270.2 959.5,261.5 968.5,253.4 978.5,245.8 988.5,239.3 998.5,233.7 1008.5,228.7 1018.5,224.3 1028.5,220.4 1038.5,216.8 1048.5,213.5 1058.5,210.5 1068.5,207.7 1078.5,205.1 1088.5,202.7 1098.5,200.5 1108.5,198.4 1118.5,196.4 1128.5,194.5 1138.5,192.8 1148.5,191.1 1158.5,189.5 1168.5,188 1178.5,186.6 1188.5,185.2 1198.5,183.9 1208.5,182.7 1218.5,181.5 1228.5,180.3 1238.5,179.2 1248.5,178.2 1258.5,177.2 1268.5,176.2 1278.5,175.3 1288.5,174.4 1298.5,173.5 1308.5,172.6 1313.5,172.2" fill="none" stroke="#c4282c" stroke-width="2.2"/><polyline points="918.5,370.5 918.8,366.2 919.3,361.3 920,355.8 921,349.1 922.5,340.6 924.5,331 926.5,322.8 929.5,312.1 933.5,300.3 938.5,287.9 944.5,275.7 951.5,264 959.5,252.9 968.5,242.5 978.5,233 988.5,224.9 998.5,218 1008.5,211.9 1018.5,206.6 1028.5,201.9 1038.5,197.7 1048.5,193.9 1058.5,190.4 1068.5,187.3 1078.5,184.4 1088.5,181.7 1098.5,179.3 1108.5,177 1112,176.2" fill="none" stroke="#c4282c" stroke-width="2.2" stroke-dasharray="6,4"/><polyline points="918.5,370.5 918.8,360.9 919.3,352 920,343 921,332.9 922.5,321.1 924.5,308.8 926.5,299 929.5,287 933.5,274.4 938.5,262.1 944.5,250.6 951.5,240 959.5,230.4 968.5,221.7 978.5,214 988.5,207.5 998.5,202.2 1008.5,197.5 1018.5,193.5 1028.5,190 1038.5,186.8 1048.5,184 1058.5,181.4 1068.5,179.1 1078.5,177 1084.5,175.8" fill="none" stroke="#d85c5c" stroke-width="1.1"/><line x1="918.5" y1="86" x2="918.5" y2="377" stroke="#1a1a1a" stroke-width="2"/><polyline points="910,109 918.5,85 927,109" fill="none" stroke="#1a1a1a" stroke-width="2"/><line x1="911" y1="370.8" x2="1407" y2="370.8" stroke="#1a1a1a" stroke-width="2.2"/><polyline points="1382,361.8 1408,370.8 1382,379.8" fill="none" stroke="#1a1a1a" stroke-width="2"/><text font-family="'Liberation Sans', sans-serif" font-size="22.4" fill="#4f4f44" text-anchor="middle" transform="translate(903.3,236.3) rotate(-90)">Shaer stress</text><text x="1272" y="395.7" font-family="'Liberation Sans', sans-serif" font-size="23.2" fill="#4f4f44" text-anchor="middle">Shear strain</text><rect x="1162" y="244.5" width="220.5" height="84" rx="7" fill="#fff" stroke="#a9a99f" stroke-width="1.6"/><text font-family="'Liberation Sans', sans-serif" font-size="23" fill="#4f4f44" text-anchor="middle"><tspan x="1272.4" y="266">Cyclic, Average and</tspan><tspan x="1272.4" y="292.7">Total stress-strain</tspan><tspan x="1272.4" y="319">curve</tspan></text><path d="M262,447 A135,135 0 0 0 397,582 L397,556 A109,109 0 0 1 288,447 Z" fill="#75705e"/><polygon points="395,540 429,568.5 395,597" fill="#75705e"/><path d="M1012,580 A133,133 0 0 0 1145,447 L1121,447 A109,109 0 0 1 1012,556 Z" fill="#75705e"/><polygon points="1106,449 1134,414 1161,449" fill="#75705e"/><text font-family="'Liberation Sans', sans-serif" font-size="23.2" fill="none" stroke="#8cc4f4" stroke-width="3" stroke-opacity="0.5"><textPath href="#tp1" startOffset="48.77497127623353">Cyclic counting</textPath></text><text font-family="'Liberation Sans', sans-serif" font-size="23.2" fill="#c8262c" stroke="#c8262c" stroke-width="0.5"><textPath href="#tp1" startOffset="48.77497127623353">Cyclic counting</textPath></text><text font-family="'Liberation Sans', sans-serif" font-size="22.5" fill="none" stroke="#8cc4f4" stroke-width="3" stroke-opacity="0.5"><textPath href="#tp2" startOffset="34.94149162492648">Extraction for N<tspan font-size="13" dy="7" dx="1.5">eq</tspan></textPath></text><text font-family="'Liberation Sans', sans-serif" font-size="22.5" fill="#c8262c" stroke="#c8262c" stroke-width="0.5"><textPath href="#tp2" startOffset="34.94149162492648">Extraction for N<tspan font-size="13" dy="7" dx="1.5">eq</tspan></textPath></text><g stroke="#a9cfe6" stroke-width="1.2" stroke-opacity="0.6"><polygon points="113.6,720 113.6,691.7 110.3,691.7 118.9,675.8 126.2,691.7 117.8,691.7 117.8,720" fill="#4b6bbf"/><polygon points="115,719.5 145.4,722.5 145.4,718.2 161.3,728.2 145.4,732.8 145.4,727.5 115,724.5" fill="#cf4444"/></g><circle cx="126.5" cy="711.6" r="6.4" fill="#5cc853"/><text x="113.3" y="664" font-family="'Liberation Sans', sans-serif" font-size="19" fill="#f4f4f4">Z</text><text x="131.8" y="707" font-family="'Liberation Sans', sans-serif" font-size="19" fill="#f4f4f4">Y</text><text x="172.3" y="737" font-family="'Liberation Sans', sans-serif" font-size="19" fill="#f4f4f4">X</text><rect x="1172" y="648.5" width="261" height="135" rx="12" fill="#fff" stroke="#a5a597" stroke-width="1.4"/><text font-family="'Liberation Sans', sans-serif" font-size="28.4" fill="#4f4f44" text-anchor="middle"><tspan x="1302" y="674.2">Assessing cyclic</tspan><tspan x="1302" y="707.6">stress-strain profile</tspan><tspan x="1302" y="741">for a given cyclic</tspan><tspan x="1302" y="774.4">load history</tspan></text></svg></body></html>
